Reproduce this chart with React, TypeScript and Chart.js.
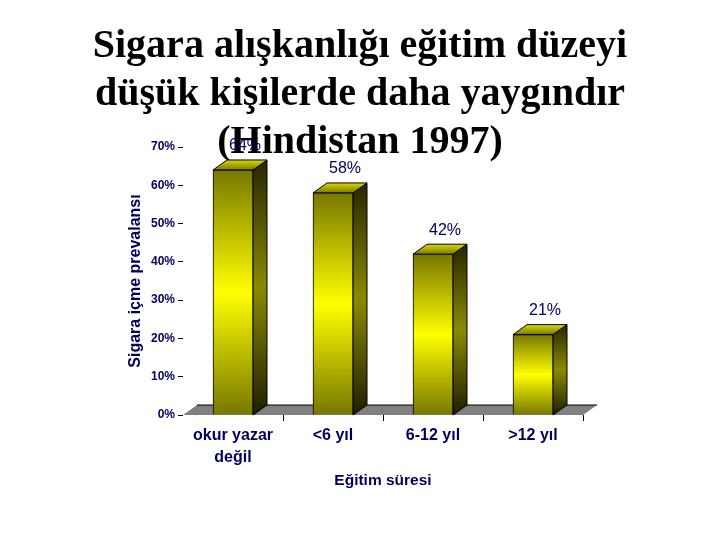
import { useEffect, useRef } from "react";
import Chart, { Plugin } from "chart.js/auto";

const categories = [["okur yazar", "değil"], "<6 yıl", "6-12 yıl", ">12 yıl"];
const prevalence = [64, 58, 42, 21];
const valueLabels = ["64%", "58%", "42%", "21%"];
const titleLines = [
  "Sigara alışkanlığı eğitim düzeyi",
  "düşük kişilerde daha yaygındır",
  "(Hindistan 1997)",
];

const NAVY = "#000060";
const DEPTH_X = 14;
const DEPTH_Y = 10;

const polygon = (ctx: CanvasRenderingContext2D, pts: number[][], fill: any) => {
  ctx.beginPath();
  pts.forEach(([x, y], i) => (i ? ctx.lineTo(x, y) : ctx.moveTo(x, y)));
  ctx.closePath();
  ctx.fillStyle = fill;
  ctx.fill();
  ctx.strokeStyle = "#000";
  ctx.lineWidth = 1;
  ctx.stroke();
};

// floor and the side / top faces of the bars, behind the real bars
const depthPlugin: Plugin = {
  id: "depth",
  beforeDatasetsDraw(chart) {
    const { ctx, chartArea, scales } = chart;
    const { left, right, bottom } = chartArea;
    ctx.save();

    // the slide title sits under the value labels, it is not part of the layout
    ctx.font = 'bold 40px "Liberation Serif"';
    ctx.fillStyle = "#000";
    ctx.textAlign = "center";
    ctx.textBaseline = "middle";
    titleLines.forEach((line, i) => ctx.fillText(line, 360, 47 + i * 48));

    ctx.fillStyle = "#808080";
    ctx.beginPath();
    ctx.moveTo(left, bottom);
    ctx.lineTo(left + DEPTH_X, bottom - DEPTH_Y);
    ctx.lineTo(right + DEPTH_X, bottom - DEPTH_Y);
    ctx.lineTo(right, bottom);
    ctx.closePath();
    ctx.fill();
    ctx.strokeStyle = "#000";
    ctx.lineWidth = 1;
    ctx.beginPath();
    ctx.moveTo(left + DEPTH_X, bottom - DEPTH_Y);
    ctx.lineTo(right + DEPTH_X, bottom - DEPTH_Y);
    ctx.stroke();

    chart.getDatasetMeta(0).data.forEach((bar: any, i) => {
      const x1 = bar.x + bar.width / 2;
      const x0 = bar.x - bar.width / 2;
      const top = scales.y.getPixelForValue(prevalence[i]);

      const side = ctx.createLinearGradient(0, top - DEPTH_Y, 0, bottom);
      side.addColorStop(0, "#262600");
      side.addColorStop(0.5, "#8a8a00");
      side.addColorStop(1, "#1e1e00");
      polygon(
        ctx,
        [
          [x1, top],
          [x1 + DEPTH_X, top - DEPTH_Y],
          [x1 + DEPTH_X, bottom - DEPTH_Y],
          [x1, bottom],
        ],
        side
      );

      const cap = ctx.createLinearGradient(0, top - DEPTH_Y, 0, top);
      cap.addColorStop(0, "#d8d800");
      cap.addColorStop(1, "#7a7a00");
      polygon(
        ctx,
        [
          [x0, top],
          [x0 + DEPTH_X, top - DEPTH_Y],
          [x1 + DEPTH_X, top - DEPTH_Y],
          [x1, top],
        ],
        cap
      );
    });
    ctx.restore();
  },
  afterDatasetsDraw(chart) {
    const { ctx, scales } = chart;
    ctx.save();
    ctx.font = '16px "Liberation Sans"';
    ctx.fillStyle = NAVY;
    ctx.textAlign = "center";
    ctx.textBaseline = "middle";
    chart.getDatasetMeta(0).data.forEach((bar: any, i) => {
      const top = scales.y.getPixelForValue(prevalence[i]);
      ctx.fillText(valueLabels[i], bar.x + 12, top - 24);
    });
    ctx.restore();
  },
};

const App = () => {
  const chartRef = useRef<HTMLCanvasElement | null>(null);

  useEffect(() => {
    if (!chartRef.current) return;
    document.body.style.margin = "0";

    const chart = new Chart(chartRef.current, {
      type: "bar",
      data: {
        labels: categories as any,
        datasets: [
          {
            data: prevalence,
            barThickness: 40,
            borderColor: "#000",
            borderWidth: 1,
            backgroundColor: (c: any) => {
              const { ctx, chartArea, scales } = c.chart;
              if (!chartArea) return "#808000";
              const top = scales.y.getPixelForValue(prevalence[c.dataIndex]);
              const g = ctx.createLinearGradient(0, top, 0, chartArea.bottom);
              g.addColorStop(0, "#777700");
              g.addColorStop(0.5, "#ffff00");
              g.addColorStop(1, "#777700");
              return g;
            },
          },
        ],
      },
      options: {
        animation: false,
        responsive: false,
        layout: { padding: { top: 147, right: 137, left: 0, bottom: 0 } },
        plugins: {
          legend: { display: false },
          tooltip: { enabled: false },
        },
        scales: {
          x: {
            afterFit: (s: any) => {
              s.height = 125;
            },
            border: { display: false },
            grid: {
              offset: true,
              drawOnChartArea: false,
              tickLength: 6,
              color: (c: any) => (c.index === 0 ? "transparent" : "#000"),
            },
            ticks: {
              color: NAVY,
              padding: 3,
              maxRotation: 0,
              font: { family: "Liberation Sans", size: 16, weight: "bold", lineHeight: 1.4 },
            },
            title: {
              display: true,
              text: "Eğitim süresi",
              color: NAVY,
              font: { family: "Liberation Sans", size: 15.5, weight: "bold" },
              padding: { top: 0, bottom: 50 },
            },
          },
          y: {
            min: 0,
            max: 70,
            afterFit: (s: any) => {
              s.width = 183;
            },
            border: { display: false },
            grid: {
              drawOnChartArea: false,
              tickLength: 5,
              color: "#000",
            },
            ticks: {
              stepSize: 10,
              color: NAVY,
              padding: 3,
              font: { family: "Liberation Sans", size: 12, weight: "bold" },
              callback: (v: any) => `${v}%`,
            },
            title: {
              display: true,
              text: "Sigara içme prevalansı",
              color: NAVY,
              font: { family: "Liberation Sans", size: 16, weight: "bold" },
              padding: { top: 126, bottom: 0 },
            },
          },
        },
      },
      plugins: [depthPlugin],
    });

    return () => chart.destroy();
  }, []);

  return <canvas ref={chartRef} width={720} height={540} style={{ display: "block" }} />;
};

export default App;
